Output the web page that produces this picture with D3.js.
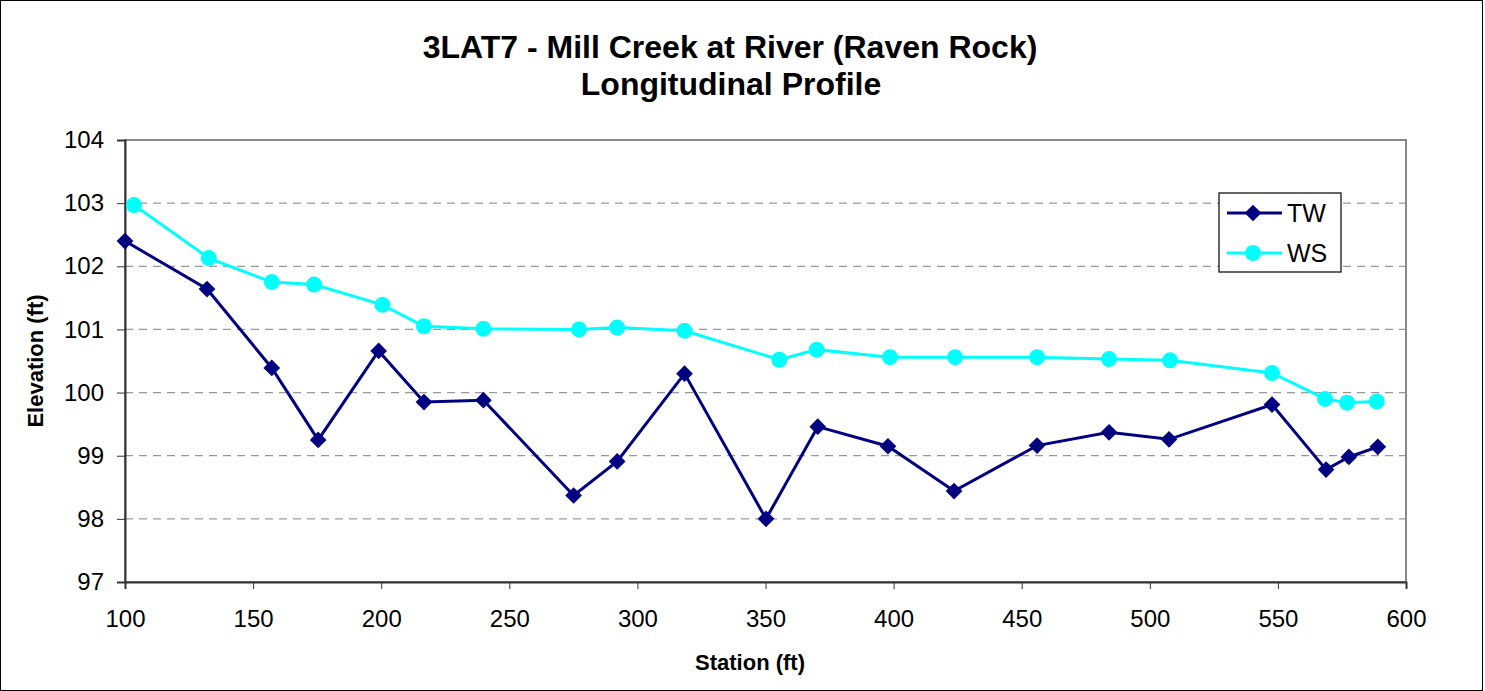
<!DOCTYPE html>
<html>
<head>
<meta charset="utf-8">
<script src="https://cdn.jsdelivr.net/npm/d3@7"></script>
<style>
  html, body { margin: 0; padding: 0; background: #fff; }
  svg { display: block; font-family: "Liberation Sans", Arial, sans-serif; }
</style>
</head>
<body>
<div id="chart"></div>
<script>
// station (ft) / elevation (ft)
const twStation = [100, 132, 157.3, 175.4, 199, 216.7, 239.9, 275.1, 292.1, 318.4, 350.2,
  370.4, 397.8, 423.6, 456, 484.1, 507.5, 547.7, 568.8, 577.7, 589];
const twElev = [102.40, 101.64, 100.39, 99.25, 100.66, 99.85, 99.88, 98.37, 98.91, 100.30, 98.00,
  99.46, 99.15, 98.44, 99.16, 99.37, 99.26, 99.81, 98.78, 98.98, 99.14];

const wsStation = [103.5, 132.7, 157.3, 173.8, 200.5, 216.7, 239.9, 277.2, 292.1, 318.4, 355.4,
  370, 398.6, 424, 456, 484.1, 507.9, 547.7, 568.4, 577, 588.6];
const wsElev = [102.97, 102.13, 101.75, 101.71, 101.39, 101.05, 101.01, 101.00, 101.03, 100.98, 100.52,
  100.68, 100.56, 100.56, 100.56, 100.53, 100.51, 100.31, 99.90, 99.84, 99.86];

const xTicks = [100, 150, 200, 250, 300, 350, 400, 450, 500, 550, 600];
const yTicks = [97, 98, 99, 100, 101, 102, 103, 104];

const series = [
  { name: "TW", color: "#000080", shape: "diamond",
    points: twStation.map((s, i) => ({ x: s, y: twElev[i] })) },
  { name: "WS", color: "#00FFFF", shape: "circle",
    points: wsStation.map((s, i) => ({ x: s, y: wsElev[i] })) }
];

const W = 1485, H = 691;
const plot = { left: 125, right: 1406, top: 140, bottom: 582 };

const svg = d3.select("#chart").append("svg")
  .attr("width", W).attr("height", H);

// outer chart border
svg.append("rect")
  .attr("x", 0.5).attr("y", 0.5)
  .attr("width", W - 3).attr("height", H - 1)
  .attr("fill", "#fff").attr("stroke", "#000").attr("stroke-width", 1);

const x = d3.scaleLinear().domain([100, 600]).range([plot.left, plot.right]);
const y = d3.scaleLinear().domain([97, 104]).range([plot.bottom, plot.top]);

// title
svg.append("text")
  .attr("x", 730).attr("y", 58)
  .attr("text-anchor", "middle")
  .attr("font-size", 32).attr("font-weight", "bold")
  .text("3LAT7 - Mill Creek at River (Raven Rock)");
svg.append("text")
  .attr("x", 731).attr("y", 95)
  .attr("text-anchor", "middle")
  .attr("font-size", 32).attr("font-weight", "bold")
  .text("Longitudinal Profile");

// dashed gridlines
svg.append("g")
  .selectAll("line")
  .data(yTicks.filter(t => t > 97 && t < 104))
  .join("line")
    .attr("x1", plot.left).attr("x2", plot.right)
    .attr("y1", d => y(d)).attr("y2", d => y(d))
    .attr("stroke", "#999").attr("stroke-width", 1.2)
    .attr("stroke-dasharray", "8,6");

// plot area frame (grey)
svg.append("rect")
  .attr("x", plot.left).attr("y", plot.top)
  .attr("width", plot.right - plot.left).attr("height", plot.bottom - plot.top)
  .attr("fill", "none").attr("stroke", "#888").attr("stroke-width", 2);

// axes
const yAxisG = svg.append("g")
  .attr("transform", `translate(${plot.left},0)`)
  .call(d3.axisLeft(y).tickValues(yTicks).tickSize(8).tickPadding(13).tickFormat(d3.format("d")));
const xAxisG = svg.append("g")
  .attr("transform", `translate(0,${plot.bottom})`)
  .call(d3.axisBottom(x).tickValues(xTicks).tickSize(7).tickPadding(21).tickFormat(d3.format("d")));

[yAxisG, xAxisG].forEach(g => {
  g.attr("font-size", 24).attr("font-family", "'Liberation Sans', Arial, sans-serif");
  g.select(".domain").attr("stroke", "#333").attr("stroke-width", 2);
  g.selectAll(".tick line").attr("stroke", "#333");
  g.selectAll(".tick text").attr("fill", "#000");
});

// axis titles
svg.append("text")
  .attr("x", 750).attr("y", 670)
  .attr("text-anchor", "middle")
  .attr("font-size", 22).attr("font-weight", "bold")
  .text("Station (ft)");
svg.append("text")
  .attr("transform", `translate(43,${(plot.top + plot.bottom) / 2}) rotate(-90)`)
  .attr("text-anchor", "middle")
  .attr("font-size", 22).attr("font-weight", "bold")
  .text("Elevation (ft)");

const line = d3.line().x(d => x(d.x)).y(d => y(d.y));
const diamond = d3.symbol().type(d3.symbolSquare).size(140);

function drawMarker(g, shape, color, cx, cy) {
  if (shape === "circle") {
    g.append("circle").attr("cx", cx).attr("cy", cy).attr("r", 8).attr("fill", color);
  } else {
    g.append("path").attr("d", diamond())
      .attr("transform", `translate(${cx},${cy}) rotate(45)`)
      .attr("fill", color);
  }
}

// series: WS first so TW sits on top
series.slice().reverse().forEach(s => {
  const g = svg.append("g");
  g.append("path")
    .datum(s.points)
    .attr("d", line)
    .attr("fill", "none")
    .attr("stroke", s.color)
    .attr("stroke-width", 3);
  s.points.forEach(p => drawMarker(g, s.shape, s.color, x(p.x), y(p.y)));
});

// legend
const leg = svg.append("g").attr("transform", "translate(1219,193)");
leg.append("rect")
  .attr("width", 122).attr("height", 79)
  .attr("fill", "#fff").attr("stroke", "#000").attr("stroke-width", 1.2);
series.forEach((s, i) => {
  const ly = 20 + i * 40;
  leg.append("line")
    .attr("x1", 8).attr("x2", 63).attr("y1", ly).attr("y2", ly)
    .attr("stroke", s.color).attr("stroke-width", 3);
  drawMarker(leg, s.shape, s.color, 34, ly);
  leg.append("text")
    .attr("x", 68).attr("y", ly + 9)
    .attr("font-size", 25)
    .text(s.name);
});
</script>
</body>
</html>
